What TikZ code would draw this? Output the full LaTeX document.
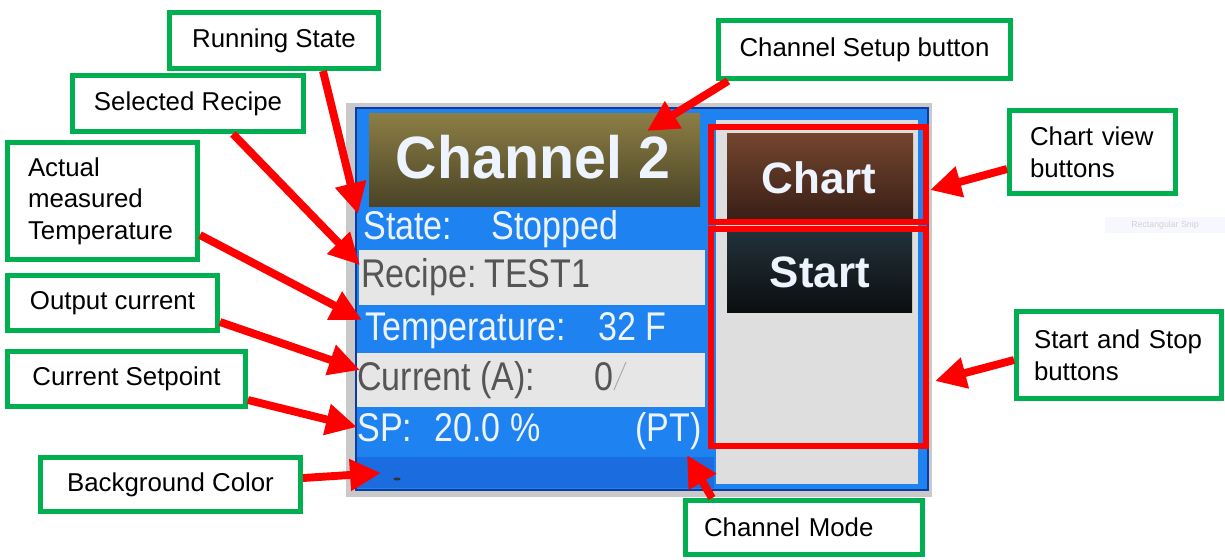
\documentclass[tikz,border=0pt]{standalone}
\usepackage{graphicx}
\usepackage{fontspec}
\setmainfont{Liberation Sans}
\usetikzlibrary{arrows.meta,positioning}
\definecolor{calloutgreen}{HTML}{00B050}
\definecolor{pointred}{HTML}{FF0000}
\definecolor{screenblue}{HTML}{1E82F0}
\definecolor{stripblue}{HTML}{1A6CDF}
\definecolor{edgeblue}{HTML}{0B3C9E}
\definecolor{rowgray}{HTML}{E6E6E6}
\definecolor{panelgray}{HTML}{DEDEDE}
\definecolor{framegray}{HTML}{C9C9C9}
\definecolor{olivetop}{HTML}{8C7E45}
\definecolor{olivebot}{HTML}{4A4426}
\definecolor{browntop}{HTML}{74452F}
\definecolor{brownbot}{HTML}{3A2016}
\definecolor{darktop}{HTML}{22323A}
\definecolor{darkbot}{HTML}{0B0E10}
\definecolor{lcdtext}{HTML}{EEF4FF}
\definecolor{lcdgray}{HTML}{555555}
\newcommand{\lcdtxt}[1]{\scalebox{0.85}[1]{#1}}

\begin{document}
\begin{tikzpicture}[
  x=0.02cm, y=-0.02cm,
  callout/.style={draw=calloutgreen, line width=2.8pt, fill=white, rectangle, inner sep=0pt, align=center, font=\fontsize{14.7}{18}\selectfont},
  calloutl/.style={callout, align=left},
  pointer/.style={pointred, line width=4.5pt, -{Triangle[length=0.62cm,width=0.6cm]}},
  redframe/.style={draw=pointred, line width=3.2pt},
  lcd/.style={anchor=base west, inner sep=0pt, text=lcdtext, font=\fontsize{22.8}{24}\selectfont},
  lcddark/.style={lcd, text=lcdgray},
  btn/.style={anchor=base, inner sep=0pt, text=lcdtext, font=\bfseries\fontsize{25}{26}\selectfont}
]
\useasboundingbox (0,0) rectangle (1225,559);

\fill[framegray] (346,103) rectangle (932,497);
\fill[screenblue] (356,108) rectangle (928,490);
\draw[edgeblue, line width=1.2pt] (356,108) rectangle (928,490);
\fill[top color=olivetop, bottom color=olivebot] (369,113) rectangle (700,206);
\fill[rowgray] (359,250) rectangle (705,305);
\fill[rowgray] (357,353) rectangle (705,407);
\fill[stripblue] (357,457) rectangle (714,488);
\fill[panelgray] (716,120) rectangle (918,484);
\fill[top color=browntop, bottom color=brownbot] (727,133) rectangle (913,218);
\fill[top color=darktop, bottom color=darkbot] (727,230) rectangle (912,312);
\draw[gray!70, line width=0.5pt] (614,390) -- (626,362);
\fill[black!80] (397,479) ellipse (0.07cm and 0.03cm);

\node[btn] (title) at (533,178) {\scalebox{0.96}[1]{\fontsize{34}{36}\selectfont Channel 2}};
\node[lcd] (statekey) at (363,239) {\lcdtxt{State:}};
\node[lcd] (stateval) at (491,239) {\lcdtxt{Stopped}};
\node[lcddark] (recipekey) at (361,287) {\lcdtxt{Recipe:}};
\node[lcddark] (recipeval) at (484,287) {\lcdtxt{TEST1}};
\node[lcd] (tempkey) at (365,340) {\lcdtxt{Temperature:}};
\node[lcd] (tempval) at (598,340) {\lcdtxt{32 F}};
\node[lcddark] (curkey) at (357,390) {\lcdtxt{Current (A):}};
\node[lcddark] (curval) at (594,390) {\lcdtxt{0}};
\node[lcd] (spkey) at (357,441) {\lcdtxt{SP:}};
\node[lcd] (spval) at (434,441) {\lcdtxt{20.0 \%}};
\node[lcd] (spmode) at (635,441) {\lcdtxt{(PT)}};
\node[btn] (chartbtn) at (819,193) {Chart};
\node[btn] (startbtn) at (820,287) {Start};

\draw[redframe] (711,127) rectangle (926,222);
\draw[redframe] (711,229) rectangle (926,446);

\node[fill=blue!3, text=gray!35, inner sep=0pt, minimum width=2.4cm, minimum height=0.32cm, font=\fontsize{5}{6}\selectfont] (snip) at (1165,225) {Rectangular Snip};

\node[callout, minimum width=4.18cm, minimum height=1.12cm] (run) at (274,40.5) {Running State};
\node[callout, minimum width=4.62cm, minimum height=1.12cm] (recipe) at (188,103.5) {Selected Recipe};
\node[calloutl, text width=2.98cm, inner xsep=0.41cm, minimum width=3.8cm, minimum height=2.34cm] (temp) at (102.5,201) {Actual\\measured\\Temperature};
\node[callout, minimum width=4.2cm, minimum height=1.1cm] (outcur) at (112.5,303) {Output current};
\node[callout, minimum width=4.76cm, minimum height=1.1cm] (sp) at (126.5,379) {Current Setpoint};
\node[callout, minimum width=5.2cm, minimum height=1.08cm] (bg) at (170.5,484.5) {Background Color};
\node[callout, minimum width=5.84cm, minimum height=1.16cm] (setup) at (864.5,49.5) {Channel Setup button};
\node[calloutl, text width=2.5cm, inner xsep=0.41cm, minimum width=3.32cm, minimum height=1.66cm] (chartlbl) at (1092.5,152) {Chart view\\buttons};
\node[calloutl, text width=3.4cm, inner xsep=0.35cm, minimum width=4.1cm, minimum height=1.74cm] (startlbl) at (1119,355) {Start and Stop\\buttons};
\node[calloutl, text width=4.0cm, inner xsep=0.37cm, minimum width=4.74cm, minimum height=1.08cm] (mode) at (804,527.5) {Channel Mode};

\coordinate (runTip) at (358,214);
\coordinate (recipeTip) at (360,265);
\coordinate (tempTip) at (362,320);
\coordinate (outcurTip) at (360,370);
\coordinate (spTip) at (357,427);
\coordinate (bgTip) at (381,473);
\coordinate (setupTip) at (647,131);
\coordinate (chartTip) at (930,190);
\coordinate (startTip) at (935,381);
\coordinate (modeTip) at (687,455);

\draw[pointer] ([xshift=0.98cm]run.south) -- (runTip);
\draw[pointer] ([xshift=0.9cm]recipe.south) -- (recipeTip);
\draw[pointer] ([yshift=-0.68cm]temp.east) -- (tempTip);
\draw[pointer] ([yshift=-0.38cm]outcur.east) -- (outcurTip);
\draw[pointer] ([yshift=-0.42cm]sp.east) -- (spTip);
\draw[pointer] ([yshift=0.13cm]bg.east) -- (bgTip);
\draw[pointer] ([xshift=0.24cm]setup.south west) -- (setupTip);
\draw[pointer] ([yshift=-0.34cm]chartlbl.west) -- (chartTip);
\draw[pointer] ([yshift=-0.1cm]startlbl.west) -- (startTip);
\draw[pointer] ([xshift=-1.84cm]mode.north) -- (modeTip);
\end{tikzpicture}
\end{document}
